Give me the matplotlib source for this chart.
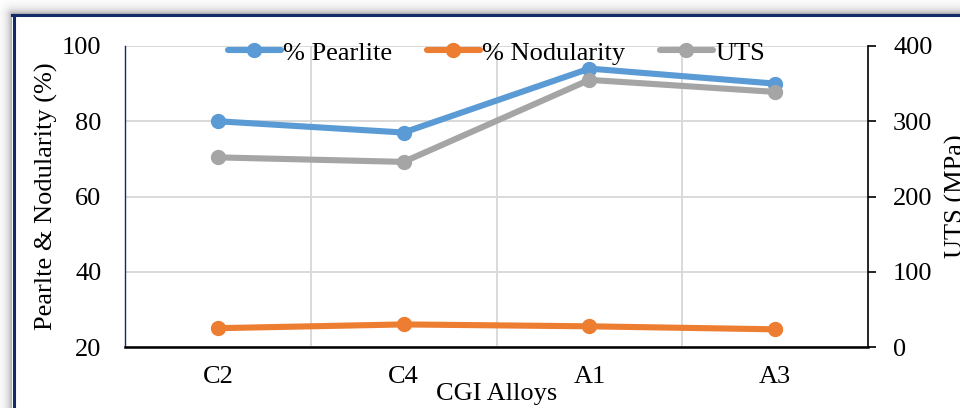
import numpy as np
import matplotlib
matplotlib.use("Agg")
import matplotlib.pyplot as plt
from matplotlib.lines import Line2D

plt.rcParams['font.family'] = ['Liberation Serif', 'DejaVu Serif']

alloys = ["C2", "C4", "A1", "A3"]
pearlite = [80, 77, 94, 90]
nodularity = [25, 26, 25.5, 24.7]
uts = [252, 246, 355, 339]

BLUE = "#5B9BD5"
ORANGE = "#ED7D31"
GRAY = "#A5A5A5"
GRID = "#D9D9D9"
NAVY = "#102B66"
FS = 19

W, H = 960, 408
fig = plt.figure(figsize=(W / 100, H / 100), dpi=100)

# soft drop shadow around the chart frame
bg = fig.add_axes([0, 0, 1, 1], zorder=-5)
yy, xx = np.mgrid[0:H, 0:W]
dx = np.clip(12 - xx, 0, None)
dy = np.clip(14 - yy, 0, None)
d = np.hypot(dx, dy)
shade = 1 - 0.38 * np.exp(-d / 4.5)
shade[(xx >= 12) & (yy >= 14)] = 1.0
bg.imshow(shade, cmap="gray", vmin=0, vmax=1, aspect="auto", interpolation="bilinear")
bg.axis("off")

# chart frame border
fig.add_artist(Line2D([13.5 / W, 13.5 / W], [0, 1 - 14.5 / H], color=NAVY, lw=2.2))
fig.add_artist(Line2D([12 / W, 1], [1 - 15 / H, 1 - 15 / H], color=NAVY, lw=2.2))

ax = fig.add_axes([125 / W, 1 - 347 / H, 743 / W, 301 / H])
ax2 = ax.twinx()

x = np.arange(len(alloys))
line_kw = dict(lw=4.4, marker="o", ms=10, solid_capstyle="round")
l1, = ax.plot(x, pearlite, color=BLUE, label="% Pearlite", zorder=3, **line_kw)
l2, = ax.plot(x, nodularity, color=ORANGE, label="% Nodularity", zorder=3, **line_kw)
l3, = ax2.plot(x, uts, color=GRAY, label="UTS", zorder=3, **line_kw)

ax.set_xlim(-0.5, len(alloys) - 0.5)
ax.set_ylim(20, 100)
ax.set_yticks([20, 40, 60, 80, 100])
ax2.set_ylim(0, 400)
ax2.set_yticks([0, 100, 200, 300, 400])

ax.set_xticks(x)
ax.set_xticklabels(alloys)
ax.set_xticks(np.arange(0.5, len(alloys) - 1, 1), minor=True)
ax.grid(True, which="minor", axis="x", color=GRID, lw=1.4)
ax.grid(True, which="major", axis="y", color=GRID, lw=1.4)
ax.set_axisbelow(True)

ax.tick_params(axis="x", which="both", length=0, labelsize=FS, pad=14)
ax.tick_params(axis="y", length=0, labelsize=FS, pad=17)
ax2.tick_params(axis="y", length=6, width=1.2, direction="out", labelsize=FS, pad=12, color="black")

for s in ["top", "right"]:
    ax.spines[s].set_visible(False)
ax.spines["left"].set_color(NAVY)
ax.spines["left"].set_linewidth(1.0)
ax.spines["bottom"].set_color("black")
ax.spines["bottom"].set_linewidth(1.8)
for s in ["top", "left", "bottom"]:
    ax2.spines[s].set_visible(False)
ax2.spines["right"].set_color("black")
ax2.spines["right"].set_linewidth(1.2)

ax.set_xlabel("CGI Alloys", fontsize=FS)
ax.xaxis.set_label_coords(0.5, -0.118)
ax.set_ylabel("Pearlte & Nodularity (%)", fontsize=FS)
ax.yaxis.set_label_coords(-0.09, 0.5)
ax2.set_ylabel("UTS (MPa)", fontsize=FS)
ax2.yaxis.set_label_coords(1.103, 0.5)

leg = ax2.legend(handles=[l1, l2, l3], loc="center", bbox_to_anchor=(0.5, 0.977),
                 ncol=3, frameon=False, fontsize=FS, handlelength=2.0,
                 handletextpad=0.1, columnspacing=1.3)

fig.savefig("out.png", dpi=100)
